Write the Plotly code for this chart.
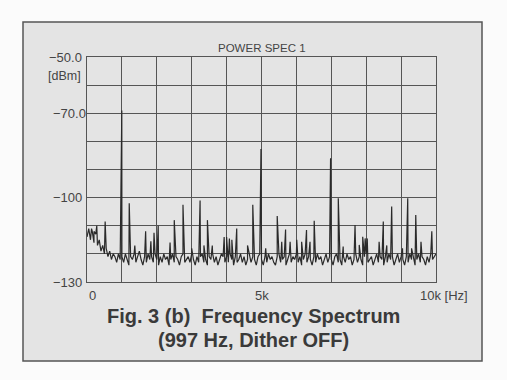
import plotly.graph_objects as go

# ---- data ----
floor_step_hz = 50
floor_db = [
    -114, -111, -115, -112, -116, -113, -117, -115, -119, -117, -120, -118, -121, -119, -122, -120, -121, -123, -120, -122,
    -121, -123, -120, -122, -124, -121, -122, -120, -123, -121, -119, -122, -124, -121, -123, -120, -122, -121, -123, -120,
    -122, -124, -121, -123, -120, -122, -121, -124, -122, -120, -123, -121, -122, -124, -121, -120, -123, -122, -121, -123,
    -120, -122, -124, -121, -123, -121, -120, -123, -122, -124, -121, -122, -120, -123, -121, -124, -122, -120, -121, -123,
    -121, -123, -120, -122, -124, -121, -123, -122, -120, -123, -121, -124, -122, -120, -123, -121, -122, -124, -121, -120,
    -122, -124, -121, -123, -120, -122, -121, -123, -124, -121, -120, -123, -122, -121, -124, -122, -120, -123, -121, -122,
    -120, -123, -121, -124, -122, -120, -123, -121, -122, -124, -121, -123, -120, -122, -121, -124, -122, -120, -123, -121,
    -122, -124, -121, -120, -123, -122, -124, -121, -123, -120, -122, -121, -124, -122, -120, -123, -121, -122, -124, -121,
    -120, -123, -122, -121, -124, -122, -120, -123, -121, -122, -124, -121, -123, -120, -122, -121, -124, -122, -120, -123,
    -121, -122, -124, -121, -123, -120, -122, -121, -124, -122, -120, -123, -121, -122, -124, -121, -123, -120, -122, -121,
    -120,
]
floor_hz = [i * floor_step_hz for i in range(len(floor_db))]

peak_hz = [130, 200, 280, 520, 997, 1210, 1370, 1680, 1830, 1920, 2040, 2380, 2500, 2750, 3000,
           3240, 3350, 3450, 3590, 3930, 4000, 4080, 4150, 4290, 4600, 4750, 4985, 5120, 5450,
           5580, 5690, 5820, 6010, 6150, 6290, 6390, 6510, 6979, 7200, 7340, 7680, 7800, 7900,
           7970, 8030, 8370, 8490, 8590, 8730, 9040, 9190, 9300, 9420, 9570, 9880]
peak_db = [-111, -112, -110, -108.5, -69, -102, -117, -112, -115.5, -112.5, -110, -116, -108, -102.5, -118,
           -101, -117, -108, -117, -114, -114, -114.5, -115, -111, -117, -102.5, -82.7, -118, -106.5,
           -115.7, -111.3, -115.7, -115, -115.7, -111.5, -115.7, -108.2, -86, -100.2, -117.4, -109.7, -116.8, -113.9,
           -114.5, -114.5, -115.7, -108.5, -117, -103.2, -118, -100.2, -118, -106.2, -115.7, -112]

y_tick_vals = [-50, -70, -100, -130]
y_tick_text = ["\u221250.0", "\u221270.0", "\u2212100", "\u2212130"]
x_tick_vals = [0, 5000, 10000]
x_tick_text = ["0", "5k", "10k [Hz]"]

title_text = "POWER SPEC 1"
caption_line1 = "Fig. 3 (b)  Frequency Spectrum"
caption_line2 = "(997 Hz, Dither OFF)"

# merge floor and peaks into one trace (sorted by frequency)
pts = sorted([(f, v) for f, v in zip(floor_hz, floor_db)] + [(f, v) for f, v in zip(peak_hz, peak_db)],
             key=lambda p: p[0])
xs = [p[0] for p in pts]
ys = [p[1] for p in pts]

BG = "#e4e4e4"
INK = "#3a3a3a"
GRID = "#555555"
FONT = "Liberation Sans, Arial, sans-serif"

fig = go.Figure()
fig.add_trace(go.Scatter(x=xs, y=ys, mode="lines",
                         line=dict(color="#2a2a2a", width=1.2), hoverinfo="skip", showlegend=False))

W, H = 507, 380
L, R, T, B = 87, 71, 57, 98
pw, ph = W - L - R, H - T - B

def px_x(px):
    return (px - L) / pw

def px_y(py):
    return (H - B - py) / ph

fig.update_layout(
    width=W, height=H,
    margin=dict(l=L, r=R, t=T, b=B, pad=0),
    paper_bgcolor="#fbfbfb",
    plot_bgcolor=BG,
    font=dict(family=FONT, color=INK),
    xaxis=dict(range=[0, 10000], dtick=1000, tick0=0, showgrid=True, gridcolor=GRID, gridwidth=1,
               showticklabels=False, ticks="", zeroline=False, showline=True, linecolor=GRID,
               linewidth=1, mirror=True, fixedrange=True),
    yaxis=dict(range=[-130, -50], dtick=10, tick0=-130, showgrid=True, gridcolor=GRID, gridwidth=1,
               showticklabels=False, ticks="", zeroline=False, showline=True, linecolor=GRID,
               linewidth=1, mirror=True, fixedrange=True),
    shapes=[dict(type="rect", xref="paper", yref="paper", layer="below",
                 x0=px_x(23), x1=px_x(482), y0=px_y(361), y1=px_y(22),
                 fillcolor=BG, line=dict(color="#555555", width=1.5))],
)

ann = []
for v, t in zip(y_tick_vals, y_tick_text):
    ann.append(dict(x=0, xref="paper", y=v, yref="y", text=t, showarrow=False,
                    xanchor="right", yanchor="middle", xshift=-3 if t != "\u221270.0" else 1,
                    font=dict(size=13, color="#444444", family=FONT)))
ann.append(dict(x=0, xref="paper", y=-50, yref="y", text="[dBm]", showarrow=False,
                xanchor="right", yanchor="middle", xshift=-4, yshift=-19,
                font=dict(size=12.5, color="#444444", family=FONT)))
for v, t in zip(x_tick_vals, x_tick_text):
    if v == 0:
        xa, xs_ = "left", 0
    elif v == 10000:
        xa, xs_ = "left", -18
    else:
        xa, xs_ = "center", 0
    ann.append(dict(x=v, xref="x", y=-130, yref="y", text=t, showarrow=False,
                    xanchor=xa, yanchor="top", xshift=xs_, yshift=-4,
                    font=dict(size=13, color="#444444", family=FONT)))
ann.append(dict(x=0.5, xref="paper", y=px_y(48), yref="paper", text=title_text, showarrow=False,
                xanchor="center", yanchor="middle", font=dict(size=11.5, color="#444444", family=FONT)))
ann.append(dict(x=px_x(253), xref="paper", y=px_y(316), yref="paper", text="<b>" + caption_line1 + "</b>",
                showarrow=False, xanchor="center", yanchor="middle",
                font=dict(size=20, color=INK, family=FONT)))
ann.append(dict(x=px_x(253), xref="paper", y=px_y(340), yref="paper", text="<b>" + caption_line2 + "</b>",
                showarrow=False, xanchor="center", yanchor="middle",
                font=dict(size=20, color=INK, family=FONT)))
fig.update_layout(annotations=ann)

fig.write_html("out.html")
